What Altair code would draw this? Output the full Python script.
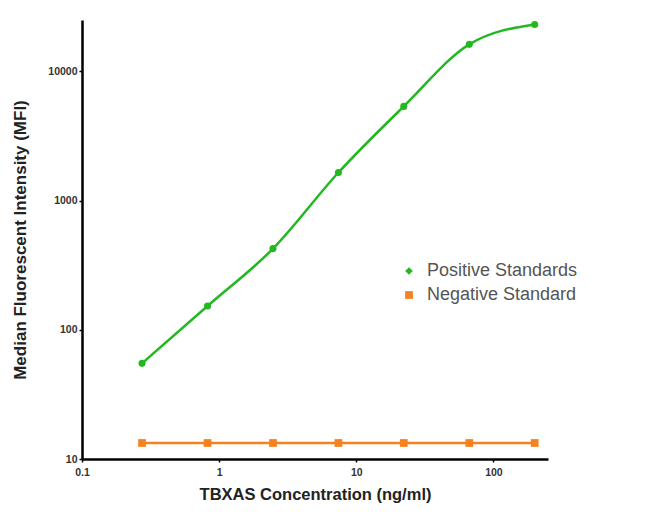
import altair as alt
import pandas as pd

conc = [0.274, 0.823, 2.47, 7.41, 22.2, 66.7, 200]
positive = [55, 153, 425, 1650, 5360, 16200, 23100]
negative = [13.3, 13.3, 13.3, 13.3, 13.3, 13.3, 13.3]
series_names = ["Positive Standards", "Negative Standard"]
colors = ["#22b822", "#f5821f"]

rows = []
for c, v in zip(conc, positive):
    rows.append({"conc": c, "mfi": v, "series": series_names[0]})
for c, v in zip(conc, negative):
    rows.append({"conc": c, "mfi": v, "series": series_names[1]})
df = pd.DataFrame(rows)

xs = alt.X("conc:Q", scale=alt.Scale(type="log", domain=[0.1, 250], nice=False),
           axis=alt.Axis(values=[0.1, 1, 10, 100], format="~g", title="TBXAS Concentration (ng/ml)",
                         grid=False, domainColor="black", domainWidth=2.5, tickColor="black",
                         tickSize=3, tickWidth=1.5, labelFontSize=10.5, labelColor="#333",
                         labelFontWeight="bold", titleFontSize=16.5, titleFontWeight="bold",
                         titleColor="#222", titlePadding=9, labelPadding=5, labelFlush=False))
ys = alt.Y("mfi:Q", scale=alt.Scale(type="log", domain=[10, 25000], nice=False),
           axis=alt.Axis(values=[10, 100, 1000, 10000], format="~g", title="Median Fluorescent Intensity (MFI)",
                         grid=False, domainColor="black", domainWidth=2.5, tickColor="black",
                         tickSize=3, tickWidth=1.5, labelFontSize=10.5, labelColor="#333",
                         labelFontWeight="bold", titleFontSize=17, titleFontWeight="bold",
                         titleColor="#222", titlePadding=18, labelPadding=2, labelFlush=False))

cscale = alt.Scale(domain=series_names, range=colors)
leg = alt.Legend(title=None, orient="none", legendX=318, legendY=242,
                 labelFontSize=18, labelColor="#555", symbolSize=60, labelOffset=9,
                 symbolOpacity=1, rowPadding=6, symbolStrokeWidth=0)

base = alt.Chart(df)

lines = base.mark_line(interpolate="monotone", strokeWidth=2.5).encode(
    x=xs, y=ys,
    stroke=alt.Stroke("series:N", scale=cscale, legend=None),
)

pts_pos = base.transform_filter(alt.datum.series == series_names[0]).mark_point(
    filled=True, size=50, opacity=1, shape="circle").encode(
    x=xs, y=ys,
    fill=alt.Fill("series:N", scale=cscale, legend=None),
)
pts_neg = base.transform_filter(alt.datum.series == series_names[1]).mark_point(
    filled=True, size=60, opacity=1, shape="square").encode(
    x=xs, y=ys,
    fill=alt.Fill("series:N", scale=cscale, legend=None),
)

legend_layer = base.mark_point(filled=True, opacity=0).encode(
    x=xs, y=ys,
    color=alt.Color("series:N", scale=cscale, legend=leg),
    shape=alt.Shape("series:N", scale=alt.Scale(domain=series_names, range=["diamond", "square"]), legend=leg),
)

chart = alt.layer(legend_layer, lines, pts_pos, pts_neg).properties(
    width=466, height=439,
    autosize=alt.AutoSizeParams(type="none"),
    padding={"left": 74, "top": 12, "right": 90, "bottom": 50},
).configure(font="Liberation Sans", view=alt.ViewConfig(stroke=None))

chart.save("out.html", embed_options={"renderer": "svg", "actions": False})
